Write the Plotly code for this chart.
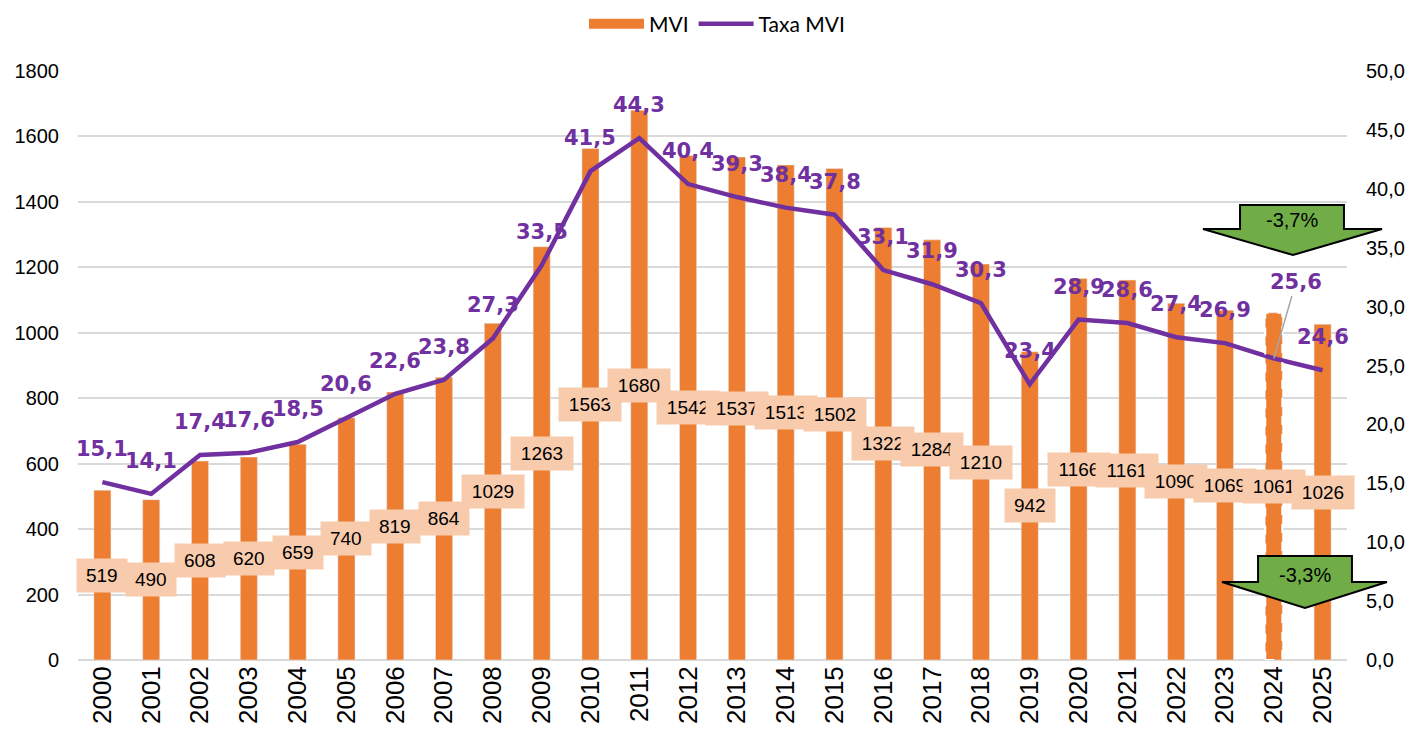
import plotly.graph_objects as go

# data
years = list(range(2000, 2026))
mvi = [519, 490, 608, 620, 659, 740, 819, 864, 1029, 1263, 1563, 1680, 1542,
       1537, 1513, 1502, 1322, 1284, 1210, 942, 1166, 1161, 1090, 1069, 1061, 1026]
taxa = [15.1, 14.1, 17.4, 17.6, 18.5, 20.6, 22.6, 23.8, 27.3, 33.5, 41.5, 44.3, 40.4,
        39.3, 38.4, 37.8, 33.1, 31.9, 30.3, 23.4, 28.9, 28.6, 27.4, 26.9, 25.6, 24.6]
left_ticks = list(range(0, 1801, 200))
right_ticks = [v * 5 for v in range(0, 11)]
arrow_texts = ["-3,7%", "-3,3%"]

ORANGE = "#ED7D31"
PURPLE = "#7030A0"
PEACH = "#F8CBAD"
GREEN = "#70AD47"
FONT = "Liberation Sans, Arial, sans-serif"

# the page body adds an 8px margin, so the figure is shrunk/shifted to compensate
OFF = 8
W, H = 1414 - OFF, 743 - OFF
L, R, T, B = 78 - OFF, 67, 71 - OFF, 83
BAR_W = 0.35


def pct(v):
    return f"{v:.1f}".replace(".", ",")


def px(x, y):
    """pixel position on the screen -> paper coords"""
    x, y = x - OFF, y - OFF
    return (x - L) / (W - L - R), (H - B - y) / (H - T - B)


def arrow_path(bl, br, bt, hy, hl, hr, tip):
    pts = [(bl, bt), (br, bt), (br, hy), (hr, hy), tip, (hl, hy), (bl, hy)]
    pts = [px(*p) for p in pts]
    return "M " + " L ".join(f"{a:.4f},{b:.4f}" for a, b in pts) + " Z"


fig = go.Figure()
fig.add_trace(go.Bar(x=years, y=mvi, name="MVI", marker_color=ORANGE, width=BAR_W,
                     showlegend=False))
# legend stand-in so the MVI key is a wide block like the original
fig.add_trace(go.Scatter(x=[None], y=[None], name="MVI", mode="lines",
                         line=dict(color=ORANGE, width=15)))
fig.add_trace(go.Scatter(x=years, y=taxa, name="Taxa MVI", yaxis="y2", mode="lines",
                         line=dict(color=PURPLE, width=4.5)))

annotations = []
# value boxes in the middle of each bar
for yr, v in zip(years, mvi):
    s = str(v)
    annotations.append(dict(x=yr, y=v / 2, xref="x", yref="y", text=s, showarrow=False,
                            font=dict(family=FONT, size=19, color="black"),
                            bgcolor=PEACH, borderpad=6, width=12.5 * len(s)))

# rate labels above the line
for yr, v in zip(years, taxa):
    a = dict(x=yr, y=v, xref="x", yref="y2", text=pct(v),
             font=dict(family="DejaVu Sans", size=21, color=PURPLE, weight="bold"))
    if yr == 2024:
        a.update(showarrow=True, ax=22, ay=-76, arrowhead=0, arrowwidth=1.5,
                 arrowcolor="#A6A6A6")
    else:
        a.update(showarrow=False, yshift=33)
    annotations.append(a)

shapes = [
    # dashed white outline on the 2024 bar
    dict(type="rect", xref="x", yref="y", x0=years[24] - BAR_W / 2, x1=years[24] + BAR_W / 2,
         y0=0, y1=mvi[24], line=dict(color="white", width=2, dash="dash")),
    # arrow call-outs
    dict(type="path", xref="paper", yref="paper", fillcolor=GREEN,
         line=dict(color="black", width=2),
         path=arrow_path(1240, 1344, 205, 229, 1203, 1382, (1293, 255))),
    dict(type="path", xref="paper", yref="paper", fillcolor=GREEN,
         line=dict(color="black", width=2),
         path=arrow_path(1258, 1352, 556, 582, 1222, 1387, (1305, 608))),
]
for txt, (cx, cy) in zip(arrow_texts, [(1292, 220), (1305, 575)]):
    ax_, ay_ = px(cx, cy)
    annotations.append(dict(x=ax_, y=ay_, xref="paper", yref="paper", text=txt,
                            showarrow=False, xanchor="center", yanchor="middle",
                            font=dict(family="Liberation Sans Narrow, Arial Narrow, sans-serif",
                                      size=20, color="black")))

lx, ly = px(717, 24)
fig.update_layout(
    width=W, height=H,
    margin=dict(l=L, r=R, t=T, b=B, autoexpand=False),
    plot_bgcolor="white", paper_bgcolor="white",
    separators=",.",
    font=dict(family=FONT, size=20, color="black"),
    showlegend=True,
    legend=dict(orientation="h", x=lx, y=ly, xanchor="center", yanchor="middle",
                font=dict(family="Lato, sans-serif", size=21), traceorder="normal",
                itemwidth=55),
    xaxis=dict(range=[years[0] - 0.5, years[-1] + 0.5], tickvals=years, tickformat="d",
               tickangle=-90, tickfont=dict(size=26),
               showgrid=False, showline=False, zeroline=False, ticks="", automargin=False),
    yaxis=dict(range=[0, 1800], tickvals=left_ticks, tickformat="d",
               showgrid=True, gridcolor="#D9D9D9", gridwidth=1.5,
               zeroline=True, zerolinecolor="#D9D9D9", zerolinewidth=1.5,
               tickfont=dict(size=20), ticklabelstandoff=18, automargin=False),
    yaxis2=dict(range=[0, 50], tickvals=right_ticks, tickformat=".1f", overlaying="y",
                side="right", showgrid=False, zeroline=False,
                tickfont=dict(size=20), ticklabelstandoff=18, automargin=False),
    annotations=annotations,
    shapes=shapes,
)

fig.write_html("out.html")
